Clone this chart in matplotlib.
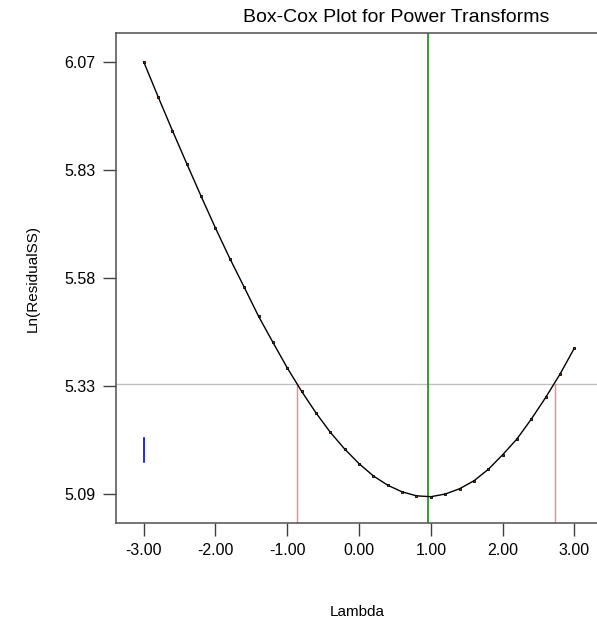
import numpy as np
import matplotlib
matplotlib.use("Agg")
import matplotlib.pyplot as plt

plt.rcParams['font.family'] = ['Liberation Sans', 'DejaVu Sans']

# Box-Cox: lambda vs ln(residual SS)
lambdas = np.round(np.arange(-3.0, 3.01, 0.2), 1)
ln_rss = [6.068, 5.989, 5.912, 5.837, 5.763, 5.691, 5.622, 5.557, 5.491, 5.432,
          5.374, 5.321, 5.272, 5.228, 5.190, 5.157, 5.129, 5.108, 5.093, 5.084,
          5.082, 5.088, 5.100, 5.118, 5.144, 5.177, 5.213, 5.258, 5.307, 5.360,
          5.419]

best_lambda = 0.96
ci_low, ci_high = -0.87, 2.73
ci_cutoff = 5.338
current_lambda = -3.0
current_range = (5.161, 5.215)

ytick_vals = np.linspace(5.0875, 6.0675, 5)
ytick_labels = ['5.09', '5.33', '5.58', '5.83', '6.07']
xtick_vals = [-3, -2, -1, 0, 1, 2, 3]
xtick_labels = ['-3.00', '-2.00', '-1.00', '0.00', '1.00', '2.00', '3.00']

fig = plt.figure(figsize=(5.97, 6.26), dpi=100)
ax = fig.add_axes([116 / 597, 1 - 523 / 626, 1 - 116 / 597, (523 - 33.3) / 626])

ax.axhline(ci_cutoff, color='#c0c0c0', lw=1)
ax.axvline(best_lambda, color='#008000', lw=1.1)
ax.plot([ci_low, ci_low], [5.0, ci_cutoff], color='#ff8080', lw=1)
ax.plot([ci_high, ci_high], [5.0, ci_cutoff], color='#ff8080', lw=1)
ax.plot([current_lambda, current_lambda], current_range, color='#0000ff', lw=1.2)

ax.plot(lambdas, ln_rss, color='black', lw=1, marker='s', markersize=2.0,
        markerfacecolor='#6a3a10', markeredgecolor='black', markeredgewidth=0.6)

ax.set_xlim(-3.386, 3.315)
ax.set_ylim(5.0224, 6.1326)
ax.set_xticks(xtick_vals)
ax.set_xticklabels(xtick_labels)
ax.set_yticks(ytick_vals)
ax.set_yticklabels(ytick_labels)
ax.tick_params(direction='out', length=9.5, width=1, colors='#404040',
               labelcolor='black', labelsize=11.5, pad=5)

for side in ['left', 'bottom', 'top']:
    ax.spines[side].set_color('#505050')
    ax.spines[side].set_linewidth(1.1)
ax.spines['right'].set_visible(False)

fig.text(396 / 597, 1 - 18 / 626, 'Box-Cox Plot for Power Transforms',
         ha='center', va='center', fontsize=14)
fig.text(357 / 597, 1 - 612 / 626, 'Lambda', ha='center', va='center', fontsize=11)
fig.text(33 / 597, 1 - 278 / 626, 'Ln(ResidualSS)', ha='center', va='center',
         rotation=90, fontsize=11)

fig.savefig('out.png', dpi=100)
